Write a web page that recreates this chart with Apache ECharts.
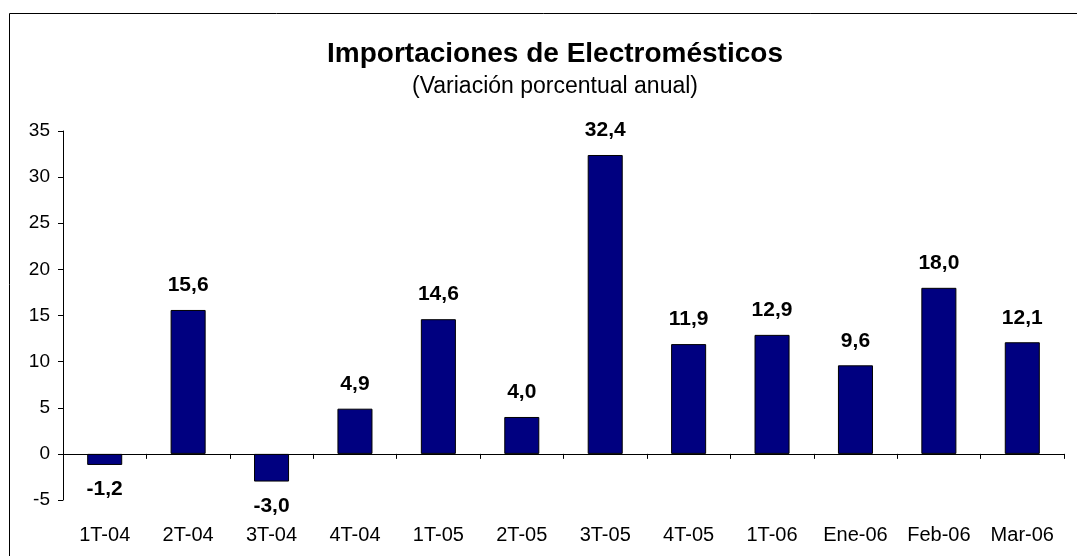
<!DOCTYPE html>
<html><head><meta charset="utf-8">
<script src="https://cdn.jsdelivr.net/npm/echarts@6/dist/echarts.min.js"></script>
<style>html,body{margin:0;padding:0;background:#fff}#c{width:1077px;height:556px}</style>
</head><body><div id="c"></div>
<script>
const categories = ['1T-04','2T-04','3T-04','4T-04','1T-05','2T-05','3T-05','4T-05','1T-06','Ene-06','Feb-06','Mar-06'];
const values = [-1.2, 15.6, -3.0, 4.9, 14.6, 4.0, 32.4, 11.9, 12.9, 9.6, 18.0, 12.1];
const yTicks = [-5, 0, 5, 10, 15, 20, 25, 30, 35];

const chart = echarts.init(document.getElementById('c'), null, {renderer:'canvas'});
const font = '"Liberation Sans", Arial, sans-serif';
chart.setOption({
  animation: false,
  backgroundColor: '#fff',
  title: [{
    text: 'Importaciones de Electromésticos',
    left: 550, top: 35, textAlign: 'center',
    textStyle: {fontFamily: font, fontSize: 28, fontWeight: 'bold', color: '#000'}
  }, {
    text: '(Variación porcentual anual)',
    left: 550, top: 70, textAlign: 'center',
    textStyle: {fontFamily: font, fontSize: 23, fontWeight: 'normal', color: '#000'}
  }],
  graphic: [
    {type:'line', shape:{x1:9.5,y1:13.5,x2:1077,y2:13.5}, style:{stroke:'#000', lineWidth:1}},
    {type:'line', shape:{x1:9.5,y1:13.5,x2:9.5,y2:556}, style:{stroke:'#000', lineWidth:1}}
  ],
  grid: {left: 63, right: 13, top: 131, bottom: 56, containLabel: false, outerBoundsMode: 'none'},
  xAxis: [{
    type: 'category', data: categories, position: 'bottom',
    axisLine: {onZero: true, lineStyle: {color: '#000', width: 1}},
    axisTick: {show: true, interval: 0, length: 5, inside: false, lineStyle: {color: '#000'}},
    axisLabel: {show: false}
  }, {
    type: 'category', data: categories, position: 'bottom',
    axisLine: {show: false, onZero: false},
    axisTick: {show: false},
    axisLabel: {show: true, interval: 0, margin: 25, fontFamily: font, fontSize: 20, color: '#000'}
  }],
  yAxis: {
    type: 'value', min: yTicks[0], max: yTicks[yTicks.length-1], interval: 5,
    splitLine: {show: false},
    axisLine: {show: true, lineStyle: {color: '#000'}},
    axisTick: {show: true, length: 5, lineStyle: {color: '#000'}},
    axisLabel: {margin: 13, fontFamily: font, fontSize: 19, color: '#000'}
  },
  series: [{
    type: 'bar', barWidth: '42%', xAxisIndex: 0,
    data: values.map(v => ({
      value: v,
      label: {position: v < 0 ? 'bottom' : 'top'}
    })),
    itemStyle: {color: '#000080', borderColor: '#000', borderWidth: 1},
    label: {
      show: true, distance: 14, fontFamily: font, fontSize: 21, fontWeight: 'bold', color: '#000',
      formatter: p => p.value.toFixed(1).replace('.', ',')
    }
  }]
});
</script></body></html>
